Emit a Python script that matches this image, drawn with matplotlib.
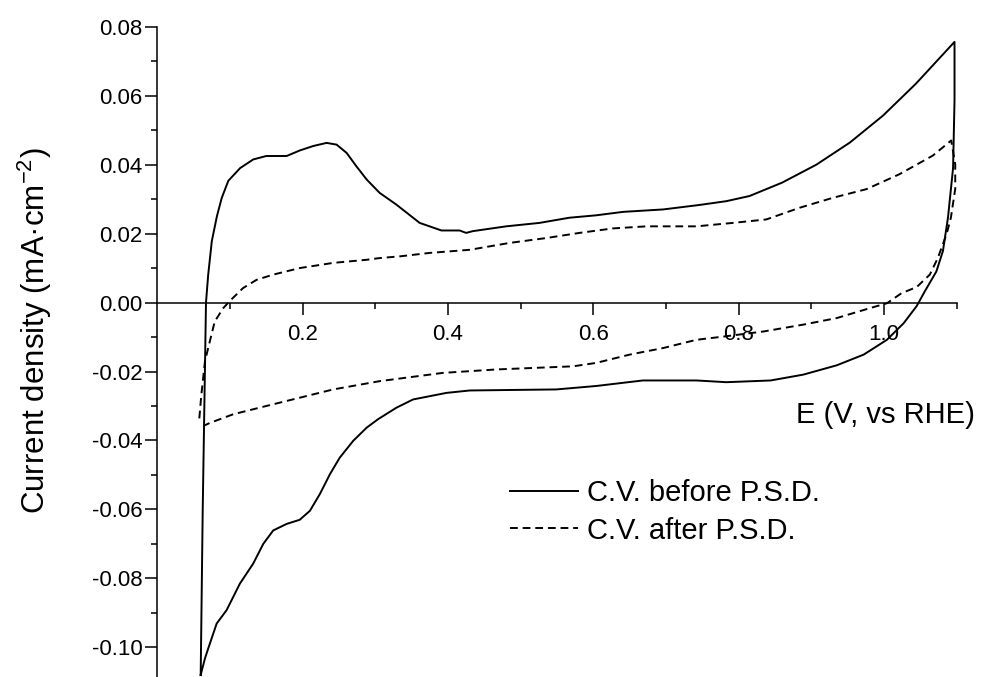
import matplotlib
matplotlib.use("Agg")
import matplotlib.pyplot as plt
from matplotlib.ticker import FixedLocator, FormatStrFormatter

plt.rcParams['font.family'] = ['Liberation Sans', 'DejaVu Sans']
plt.rcParams['mathtext.fontset'] = 'custom'
plt.rcParams['mathtext.rm'] = 'Liberation Sans'
plt.rcParams['axes.unicode_minus'] = False

# C.V. before P.S.D. (solid)
before_up_E = [0.0597, 0.0625, 0.0655, 0.067, 0.070, 0.075, 0.082, 0.0886, 0.0977, 0.114,
               0.132, 0.150, 0.178, 0.196, 0.2146, 0.233, 0.2467, 0.2605, 0.274, 0.288,
               0.306, 0.329, 0.361, 0.391, 0.416, 0.425, 0.434, 0.48, 0.526, 0.567,
               0.604, 0.641, 0.696, 0.746, 0.783, 0.815, 0.86, 0.907, 0.953, 0.9985,
               1.044, 1.097]
before_up_J = [-0.108, -0.060, -0.020, 0.0, 0.008, 0.0178, 0.025, 0.0303, 0.0353, 0.039,
               0.0415, 0.0425, 0.0425, 0.0441, 0.0454, 0.0463, 0.0458, 0.0434, 0.0395, 0.0357,
               0.0318, 0.0284, 0.0231, 0.0209, 0.0209, 0.0202, 0.0207, 0.0221, 0.0231, 0.0246,
               0.0253, 0.0263, 0.027, 0.0283, 0.0294, 0.0309, 0.0348, 0.040, 0.0464, 0.0542,
               0.0635, 0.0756]
before_down_E = [1.097, 1.095, 1.088, 1.081, 1.072, 1.056, 1.045, 1.027, 1.004, 0.972,
                 0.935, 0.889, 0.844, 0.783, 0.742, 0.668, 0.604, 0.549, 0.43, 0.398,
                 0.352, 0.329, 0.304, 0.288, 0.2696, 0.251, 0.2375, 0.2238, 0.21, 0.196,
                 0.178, 0.1595, 0.1458, 0.132, 0.1137, 0.0954, 0.0817, 0.0725, 0.0656, 0.0597]
before_down_J = [0.0586, 0.039, 0.0246, 0.0149, 0.009, 0.0032, -0.001, -0.006, -0.0108, -0.0151,
                 -0.0182, -0.0209, -0.0226, -0.0231, -0.0226, -0.0226, -0.0242, -0.0252, -0.0255, -0.0262,
                 -0.0281, -0.0305, -0.0338, -0.0363, -0.0401, -0.045, -0.0498, -0.0555, -0.0604, -0.063,
                 -0.0642, -0.0661, -0.070, -0.0757, -0.0815, -0.0892, -0.0931, -0.0988, -0.1032, -0.108]

# C.V. after P.S.D. (dashed)
after_up_E = [0.0578, 0.0605, 0.0656, 0.079, 0.0908, 0.100, 0.118, 0.1367, 0.1595, 0.196,
              0.242, 0.288, 0.306, 0.334, 0.375, 0.43, 0.485, 0.535, 0.581, 0.627,
              0.673, 0.742, 0.792, 0.838, 0.884, 0.93, 0.976, 1.021, 1.067, 1.0925]
after_up_J = [-0.0336, -0.027, -0.017, -0.0055, -0.0016, 0.0005, 0.0042, 0.0066, 0.0081, 0.010,
              0.0115, 0.0124, 0.0129, 0.0134, 0.0144, 0.0153, 0.0173, 0.0187, 0.0202, 0.0215,
              0.0221, 0.0221, 0.0231, 0.0241, 0.0275, 0.0304, 0.0329, 0.0372, 0.0426, 0.047]
after_down_E = [1.098, 1.098, 1.092, 1.086, 1.074, 1.063, 1.045, 1.024, 1.004, 0.981,
                0.935, 0.889, 0.834, 0.778, 0.742, 0.696, 0.65, 0.604, 0.572, 0.467,
                0.393, 0.306, 0.242, 0.196, 0.150, 0.1045, 0.0725, 0.0633]
after_down_J = [0.040, 0.033, 0.0246, 0.0198, 0.0129, 0.0081, 0.0045, 0.0027, -0.0002, -0.0016,
                -0.0045, -0.0064, -0.0084, -0.0099, -0.0108, -0.0132, -0.0151, -0.0175, -0.0185, -0.0194,
                -0.0204, -0.0228, -0.0252, -0.0276, -0.030, -0.0324, -0.0349, -0.0358]

y_ticks = [-0.10, -0.08, -0.06, -0.04, -0.02, 0.00, 0.02, 0.04, 0.06, 0.08]
x_ticks = [0.2, 0.4, 0.6, 0.8, 1.0]

fig = plt.figure(figsize=(9.83, 6.77), dpi=100)
ax = fig.add_axes([157.3 / 983, 0.0, (956.7 - 157.3) / 983, 1 - 26.7 / 677])

ax.plot(before_up_E + before_down_E, before_up_J + before_down_J,
        color='black', lw=1.4, label='C.V. before P.S.D.')
ax.plot(after_up_E + after_down_E, after_up_J + after_down_J,
        color='black', lw=1.4, linestyle=(0, (4, 2.5)), label='C.V. after P.S.D.')

ax.set_xlim(0.0, 1.1)
ax.set_ylim(-0.1086, 0.08)

ax.spines['top'].set_visible(False)
ax.spines['right'].set_visible(False)
ax.spines['bottom'].set_position(('data', 0.0))
for s in ('left', 'bottom'):
    ax.spines[s].set_linewidth(1.1)

ax.xaxis.set_major_locator(FixedLocator(x_ticks))
ax.xaxis.set_minor_locator(FixedLocator([0.1, 0.3, 0.5, 0.7, 0.9, 1.1]))
ax.xaxis.set_major_formatter(FormatStrFormatter('%.1f'))
ax.yaxis.set_major_locator(FixedLocator(y_ticks))
ax.yaxis.set_minor_locator(FixedLocator([-0.09, -0.07, -0.05, -0.03, -0.01,
                                         0.01, 0.03, 0.05, 0.07]))
ax.yaxis.set_major_formatter(FormatStrFormatter('%.2f'))

ax.tick_params(which='major', direction='out', length=8.6, width=1.1, labelsize=16)
ax.tick_params(which='minor', direction='out', length=4.6, width=1.1)
ax.tick_params(axis='x', which='major', pad=7)
ax.tick_params(axis='y', which='major', pad=2)

fig.text(975 / 983, 1 - 415 / 677, 'E (V, vs RHE)', ha='right', va='center', fontsize=21)
fig.text(35 / 983, 1 - 331 / 677, 'Current density (mA·cm$^{\\mathrm{-2}}$)',
         rotation=90, ha='center', va='center', fontsize=22.5)

ax.legend(loc='center left', bbox_to_anchor=(510 / 983, 1 - 512 / 677),
          bbox_transform=fig.transFigure, frameon=False, fontsize=21,
          handlelength=2.34, handletextpad=0.3, labelspacing=0.32,
          borderpad=0, borderaxespad=0)

fig.savefig('out.png', dpi=100)
